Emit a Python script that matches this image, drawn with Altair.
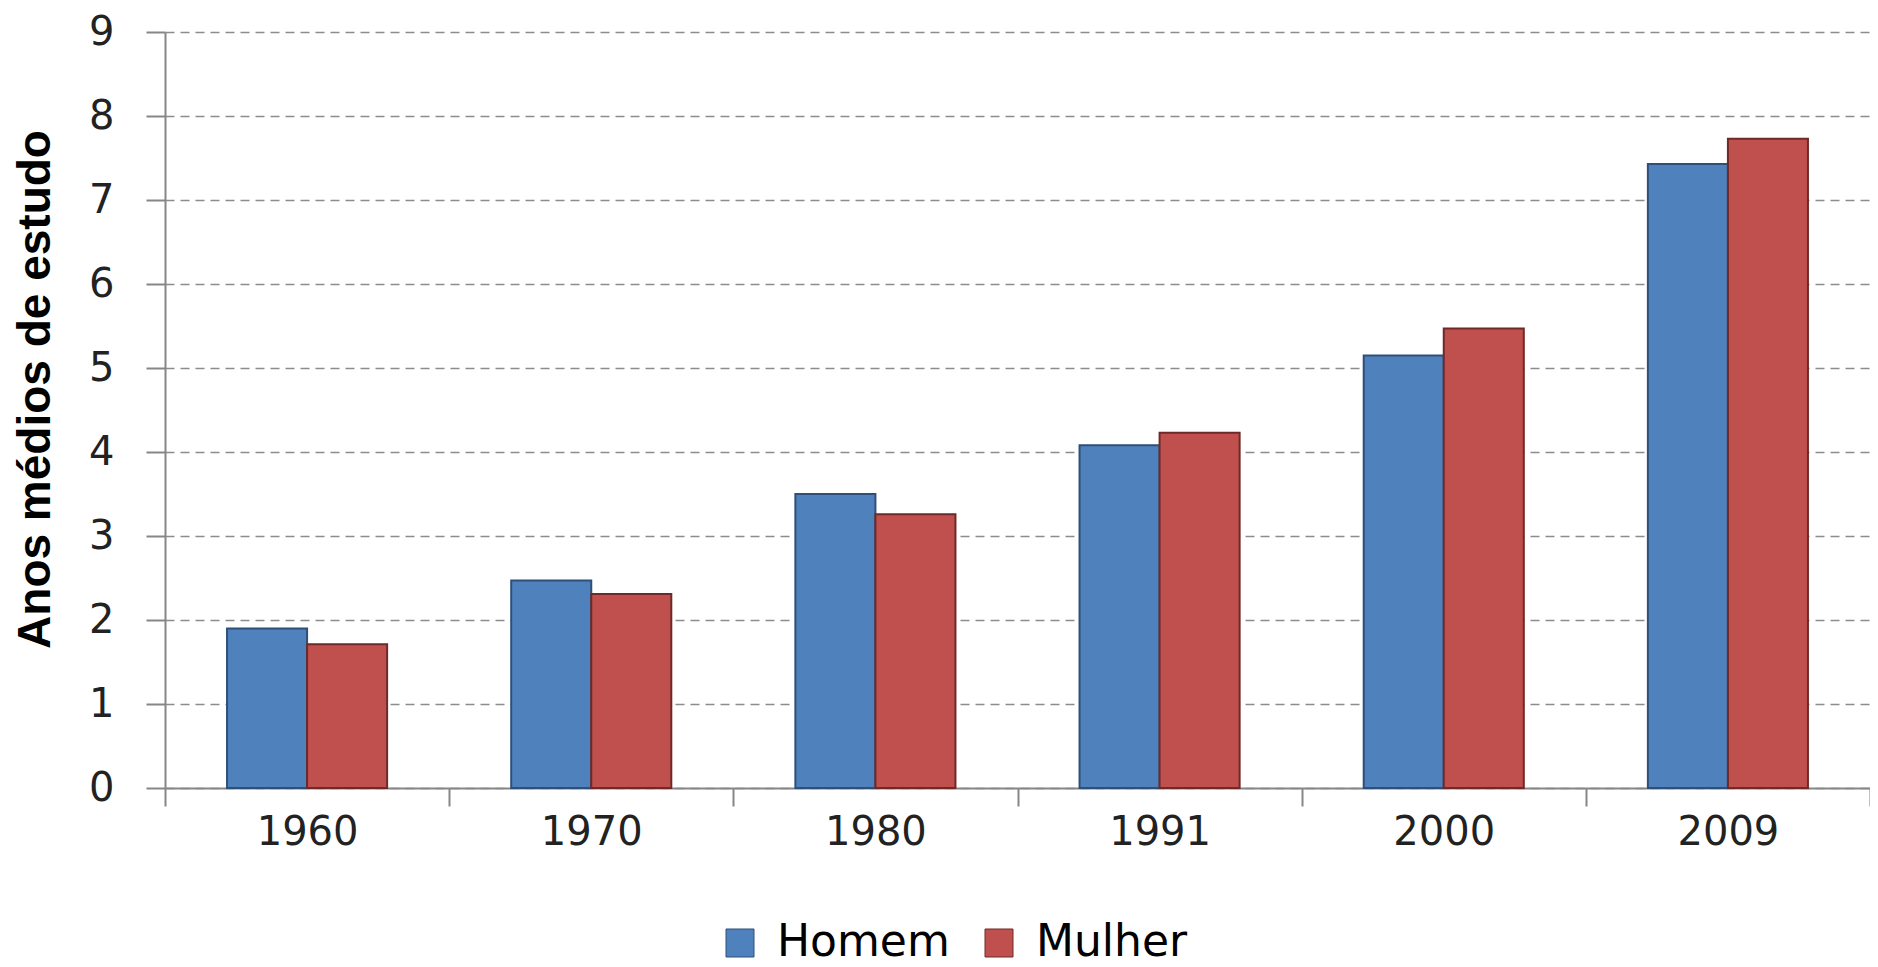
import altair as alt
import pandas as pd

anos = ["1960", "1970", "1980", "1991", "2000", "2009"]
homem = [1.90, 2.47, 3.50, 4.08, 5.15, 7.43]
mulher = [1.71, 2.31, 3.26, 4.23, 5.47, 7.73]
series = ["Homem", "Mulher"]
fill_colors = ["#4F81BD", "#C0504D"]
edge_colors = ["#2E4F78", "#6E2A28"]
y_ticks = list(range(0, 10))

rows = []
for a, h, m in zip(anos, homem, mulher):
    rows.append({"ano": a, "sexo": "Homem", "valor": h})
    rows.append({"ano": a, "sexo": "Mulher", "valor": m})
df = pd.DataFrame(rows)

axis_gray = "#868686"

chart = alt.Chart(df).mark_bar(strokeWidth=2).encode(
    x=alt.X(
        "ano:N",
        sort=anos,
        scale=alt.Scale(paddingInner=0, paddingOuter=0),
        axis=alt.Axis(
            title=None,
            labelAngle=0,
            labelFont="DejaVu Sans",
            labelFontSize=40,
            labelColor="#222222",
            labelPadding=6,
            tickBand="extent",
            tickSize=18,
            tickWidth=2,
            tickColor=axis_gray,
            domainColor=axis_gray,
            domainWidth=2,
            grid=False,
        ),
    ),
    xOffset=alt.XOffset(
        "sexo:N", sort=series, scale=alt.Scale(paddingInner=0, paddingOuter=0.775)
    ),
    y=alt.Y(
        "valor:Q",
        scale=alt.Scale(domain=[0, 9], nice=False),
        axis=alt.Axis(
            values=y_ticks,
            title="Anos médios de estudo",
            titleFont="Liberation Sans",
            titleFontWeight="bold",
            titleFontSize=46,
            titleColor="#000000",
            titleX=-106,
            titleY=357,
            labelFont="DejaVu Sans",
            labelFontSize=40,
            labelColor="#222222",
            labelPadding=32,
            tickSize=19,
            tickWidth=2,
            tickColor=axis_gray,
            domainColor=axis_gray,
            domainWidth=2,
            grid=True,
            gridDash=[9, 6],
            gridColor="#8c8c8c",
            gridWidth=1.5,
        ),
    ),
    color=alt.Color(
        "sexo:N",
        scale=alt.Scale(domain=series, range=fill_colors),
        legend=alt.Legend(
            title=None,
            orient="none",
            legendX=553,
            legendY=889,
            direction="horizontal",
            symbolType="square",
            symbolSize=784,
            symbolStrokeWidth=1,
            labelFont="DejaVu Sans",
            labelFontSize=44,
            labelLimit=400,
            labelColor="#000000",
            labelOffset=15,
            columnPadding=27,
            padding=0,
        ),
    ),
    stroke=alt.Stroke(
        "sexo:N", scale=alt.Scale(domain=series, range=edge_colors), legend=None
    ),
).properties(
    width=1705,
    height=756,
    autosize=alt.AutoSizeParams(type="none"),
    padding={"left": 157, "top": 24, "right": 0, "bottom": 182},
).configure_view(stroke=None)

chart.save("out.html", embed_options={"renderer": "svg", "actions": False})
